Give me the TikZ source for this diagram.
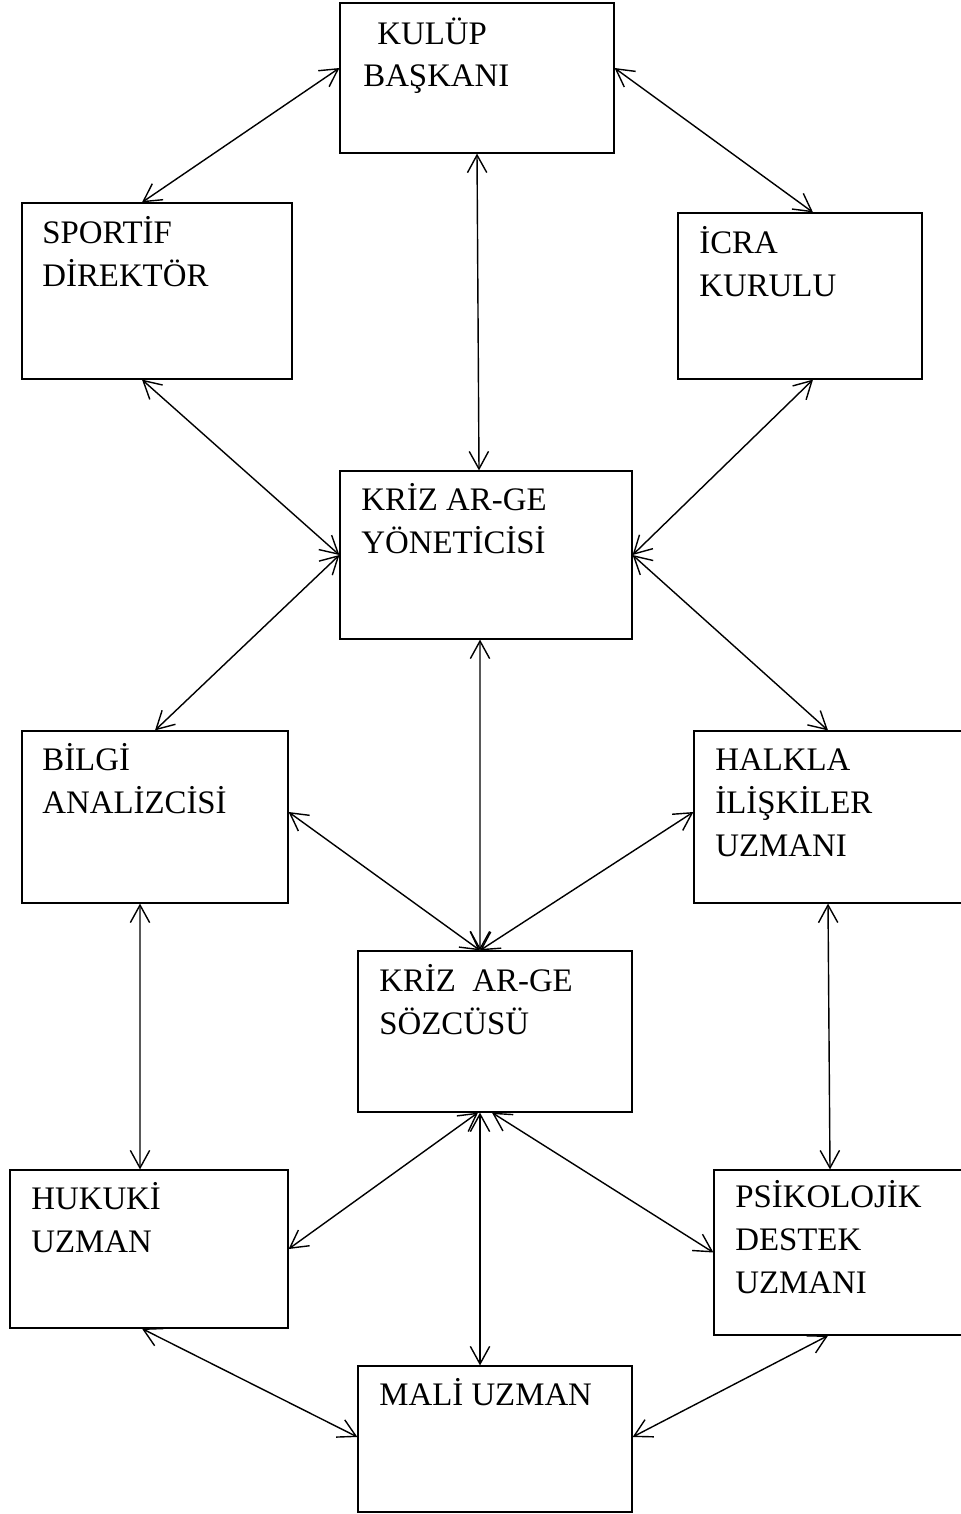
\documentclass[tikz,border=0pt]{standalone}
\usepackage{fontspec}
\setmainfont{Liberation Serif}
\usetikzlibrary{arrows.meta}
\tikzset{
  box/.style={draw, line width=0.7pt, rectangle, inner sep=0pt},
  txt/.style={anchor=base west, align=left, inner sep=0pt, font=\fontsize{18.7}{24.3}\selectfont},
  link/.style={<->, line width=0.8pt, >={Straight Barb[length=10pt,width=11pt]}},
}
\begin{document}
\begin{tikzpicture}[x=0.02cm, y=-0.02cm]
  \useasboundingbox (0,0) rectangle (960,1514);
  \node[box, minimum width=5.48cm, minimum height=3cm] (kb) at (477,78) {};
  \node[box, minimum width=5.4cm, minimum height=3.52cm] (sd) at (157,291) {};
  \node[box, minimum width=4.88cm, minimum height=3.32cm] (ik) at (800,296) {};
  \node[box, minimum width=5.84cm, minimum height=3.36cm] (ky) at (486,555) {};
  \node[box, minimum width=5.32cm, minimum height=3.44cm] (ba) at (155,817) {};
  \node[box, minimum width=5.36cm, minimum height=3.44cm] (hi) at (828,817) {};
  \node[box, minimum width=5.48cm, minimum height=3.22cm] (ks) at (495,1031.5) {};
  \node[box, minimum width=5.56cm, minimum height=3.16cm] (hu) at (149,1249) {};
  \node[box, minimum width=4.96cm, minimum height=3.3cm] (pd) at (838,1252.5) {};
  \node[box, minimum width=5.48cm, minimum height=2.92cm] (mu) at (495,1439) {};
  \node[txt] (kb-t) at (363,87) {\hspace{0.28cm}KULÜP\\BAŞKANI};
  \node[txt] (sd-t) at (42,286) {SPORTİF\\DİREKTÖR};
  \node[txt] (ik-t) at (699,296) {İCRA\\KURULU};
  \node[txt] (ky-t) at (361,553) {KRİZ AR-GE\\YÖNETİCİSİ};
  \node[txt] (ba-t) at (42,813) {BİLGİ\\ANALİZCİSİ};
  \node[txt] (hi-t) at (715,856) {HALKLA\\İLİŞKİLER\\UZMANI};
  \node[txt] (ks-t) at (379,1034) {KRİZ\ \ AR-GE\\SÖZCÜSÜ};
  \node[txt] (hu-t) at (31,1252) {HUKUKİ\\UZMAN};
  \node[txt] (pd-t) at (735,1293) {PSİKOLOJİK\\DESTEK\\UZMANI};
  \node[txt] (mu-t) at (379,1405) {MALİ UZMAN};
  \draw[link] ([yshift=0.2cm]kb.west) -- ([xshift=-0.3cm]sd.north);
  \draw[link] ([yshift=0.2cm]kb.east) -- ([xshift=0.26cm]ik.north);
  \draw[link] (kb.south) -- ([xshift=-0.14cm]ky.north);
  \draw[link] ([xshift=-0.3cm]sd.south) -- (ky.west);
  \draw[link] ([xshift=0.26cm]ik.south) -- (ky.east);
  \draw[link] (ky.west) -- (ba.north);
  \draw[link] (ky.east) -- (hi.north);
  \draw[link] ([xshift=-0.12cm]ky.south) -- ([xshift=-0.3cm]ks.north);
  \draw[link] ([yshift=0.1cm]ba.east) -- ([xshift=-0.3cm]ks.north);
  \draw[link] ([yshift=0.1cm]hi.west) -- ([xshift=-0.3cm]ks.north);
  \draw[link] ([xshift=-0.3cm]ba.south) -- ([xshift=-0.18cm]hu.north);
  \draw[link] (hi.south) -- ([xshift=-0.16cm]pd.north);
  \draw[link] ([xshift=-0.34cm]ks.south) -- (hu.east);
  \draw[link] ([xshift=-0.3cm]ks.south) -- ([xshift=-0.3cm]mu.north);
  \draw[link] ([xshift=-0.06cm]ks.south) -- (pd.west);
  \draw[link] ([xshift=-0.14cm]hu.south) -- ([yshift=0.04cm]mu.west);
  \draw[link] ([xshift=-0.2cm]pd.south) -- ([yshift=0.04cm]mu.east);
\end{tikzpicture}
\end{document}
